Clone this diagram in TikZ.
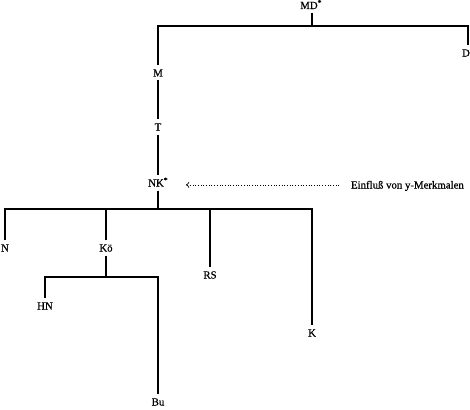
\documentclass[tikz,border=0pt]{standalone}
\usepackage{fontspec}
\setmainfont{Liberation Serif}[FakeBold=0.6]
\usetikzlibrary{arrows.meta}
\begin{document}
\begin{tikzpicture}[x=1pt,y=-1pt,
  lbl/.style={font=\fontsize{10.8}{12}\selectfont, inner sep=0pt, outer sep=4pt,
    text height=7.2pt, text depth=0pt, anchor=base},
  tree/.style={line width=1.1pt},
  infl/.style={dotted, line width=0.7pt, -{To[length=3.5pt,width=6pt]}}]
\useasboundingbox (0,0) rectangle (470,409);
% nodes
\node[lbl] (MD) at (309,9) {MD\rlap{\textsuperscript{*}}};
\node[lbl] (M)  at (158,76.5) {M};
\node[lbl] (D)  at (466,56.5) {D};
\node[lbl] (T)  at (158,130.5) {T};
\node[lbl] (NK) at (156,186.5) {NK\rlap{\textsuperscript{*}}};
\node[lbl, anchor=base west] (E) at (347,188.5) {Einflu\ss{} von y-Merkmalen};
\node[lbl] (N)  at (5,251.5) {N};
\node[lbl] (Ko) at (106,251.5) {Kö};
\node[lbl] (RS) at (210,278.5) {RS};
\node[lbl] (K)  at (312,336.5) {K};
\node[lbl] (HN) at (45,309.5) {HN};
\node[lbl] (Bu) at (158,405.5) {Bu};
% junctions
\coordinate (j1) at (312,26);
\coordinate (j2) at (158,209);
\coordinate (j3) at (106,277);
% connectors
\draw[tree] (j1 |- MD.south) -- (j1);
\draw[tree] (M.north) |- (j1) -| (D.north -| 468,0);
\draw[tree] (M) -- (T);
\draw[tree] (T) -- (T |- NK.north);
\draw[tree] (j2 |- NK.south) -- (j2);
\draw[tree] (N.north) |- (j2) -| (K.north);
\draw[tree] (Ko.north) -- (Ko.north |- j2);
\draw[tree] (RS.north) -- (RS.north |- j2);
\draw[tree] (Ko) -- (j3);
\draw[tree] (HN.north) |- (j3) -| (Bu.north);
\draw[infl, shorten <=8pt, shorten >=18pt] (E.west) -- (E.west -| NK.east);
\end{tikzpicture}
\end{document}
